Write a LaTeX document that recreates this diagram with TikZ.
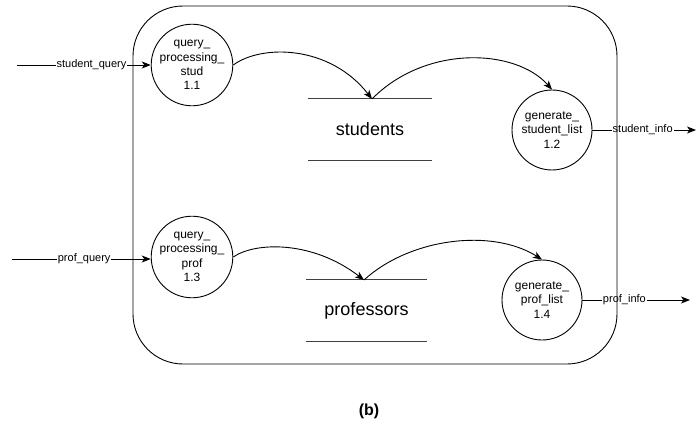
\documentclass[tikz,border=0pt]{standalone}
\usepackage{fontspec}
\setmainfont{Liberation Sans}
\usetikzlibrary{arrows.meta}

\tikzset{
  proc/.style={draw, circle, minimum size=80pt, inner sep=0pt, align=center,
               font=\fontsize{12}{14.4}\selectfont, line width=0.9pt},
  storetext/.style={inner sep=0pt, font=\fontsize{18}{20}\selectfont},
  storeline/.style={draw=black!75, line width=1pt},
  flow/.style={draw, line width=0.9pt, -{Stealth[length=9pt, width=7pt, inset=2.5pt]}},
  flowlabel/.style={fill=white, inner xsep=1pt, inner ysep=1pt,
                    font=\fontsize{11}{12}\selectfont},
  sysbox/.style={draw, line width=0.9pt, rounded corners=50pt, inner sep=0pt}
}

\begin{document}
\begin{tikzpicture}[x=1pt, y=-1pt]
\useasboundingbox (0,0) rectangle (697,428);

% processes
\node[proc] (p11) at (192,65)  {query\_\\processing\_\\stud\\1.1};
\node[proc] (p12) at (552,130) {generate\_\\student\_list\\1.2};
\node[proc] (p13) at (192,257) {query\_\\processing\_\\prof\\1.3};
\node[proc] (p14) at (542,300) {generate\_\\prof\_list\\1.4};

% data stores
\node[storetext, minimum width=124pt, minimum height=61pt] (st) at (370,129.5) {students};
\draw[storeline] (st.north west) -- (st.north east);
\draw[storeline] (st.south west) -- (st.south east);
\node[storetext, minimum width=121pt, minimum height=61pt] (pr) at (366.5,310.5) {professors};
\draw[storeline] (pr.north west) -- (pr.north east);
\draw[storeline] (pr.south west) -- (pr.south east);

\coordinate (stTop) at (372,99);
\coordinate (prTop) at (364,280);

% internal flows
\draw[flow] (p11.east) .. controls (262,44) and (330,45) .. (stTop);
\draw[flow] (stTop) .. controls (425,45) and (515,48) .. (p12.north);
\draw[flow] (p13.east) .. controls (255,242) and (312,240) .. (prTop);
\draw[flow] (prTop) .. controls (410,238) and (492,228) .. (p14.north);

% external flows
\coordinate (sqSrc) at (17,65);
\coordinate (pqSrc) at (12,259);
\coordinate (siDst) at (696,130);
\coordinate (piDst) at (690,300);

\draw[flow] (sqSrc) -- node[flowlabel, pos=0.557] {student\_query} (sqSrc -| p11.west);
\draw[flow] (pqSrc) -- node[flowlabel, pos=0.52] {prof\_query} (pqSrc -| p13.west);
\draw[flow] (p12.east) -- node[flowlabel, pos=0.485] {student\_info} (siDst);
\draw[flow] (p14.east) -- node[flowlabel, pos=0.39] {prof\_info} (piDst);

% system boundary
\node[sysbox, minimum width=484pt, minimum height=358pt] (sys) at (375,185) {};

\node[font=\bfseries\fontsize{16}{18}\selectfont] (cap) at (369,411) {(b)};
\end{tikzpicture}
\end{document}
